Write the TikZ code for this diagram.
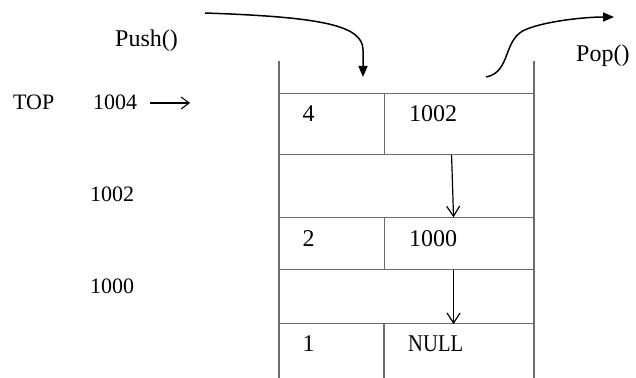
\documentclass[tikz,border=0pt]{standalone}
\usepackage{fontspec}
\setmainfont{Liberation Serif}
\usetikzlibrary{arrows.meta}
\begin{document}
\begin{tikzpicture}[x=1pt,y=-1pt,
  cell/.style={draw=gray!85!black, line width=1.1pt, minimum height=#1, inner sep=0pt, anchor=north west},
  big/.style={font=\fontsize{24}{28}\selectfont, inner sep=0pt, anchor=base west},
  lab/.style={font=\fontsize{22}{26}\selectfont, inner sep=0pt, anchor=base west},
  wall/.style={draw=gray!85!black, line width=1.1pt},
  opar/.style={draw=black, line width=1.2pt, -{Straight Barb[length=10pt,width=13pt,line width=1.2pt]}},
  curvearrow/.style={draw=black, line width=1.5pt, -{Triangle[length=11pt,width=9pt]}}]
\useasboundingbox (0,0) rectangle (636,377);
% rows
\node[cell=61.3pt, minimum width=105pt] (r1a) at (279,92.7) {};
\node[cell=61.3pt, minimum width=150pt] (r1b) at (384,92.7) {};
\node[cell=63.3pt, minimum width=255pt] (r2)  at (279,154) {};
\node[cell=52pt, minimum width=105pt] (r3a) at (279,217.3) {};
\node[cell=52pt, minimum width=150pt] (r3b) at (384,217.3) {};
\node[cell=53.7pt, minimum width=255pt] (r4)  at (279,269.3) {};
% walls
\coordinate (wlt) at (279,61);
\coordinate (wlb) at (279,378);
\coordinate (wrt) at (534,61);
\coordinate (wrb) at (534,378);
\coordinate (dvt) at (384,323);
\coordinate (dvb) at (384,378);
\draw[wall] (wlt) -- (wlb);
\draw[wall] (wrt) -- (wrb);
\draw[wall] (dvt) -- (dvb);
% cell texts
\node[big] (t4) at (302.5,121.5) {4};
\node[big] (t1002) at (409,121.5) {1002};
\node[big] (t2) at (302.5,246) {2};
\node[big] (t1000) at (409,246) {1000};
\node[big] (t1) at (302.5,351.7) {1};
\node[big] (tnull) at (408,351.7) {\scalebox{0.86}[1]{NULL}};
% outside labels
\node[big] (push) at (115,46.7) {Push()};
\node[big] (pop) at (576,61.7) {Pop()};
\node[lab] (top) at (13,109.3) {TOP};
\node[lab] (a1004) at (93,109.3) {1004};
\node[lab] (a1002) at (90,201.7) {1002};
\node[lab] (a1000) at (90,293) {1000};
% TOP arrow
\coordinate (tops) at (150,103);
\coordinate (tope) at (190,103);
\draw[line width=1.1pt, -{Straight Barb[length=8pt,width=12pt,line width=1.1pt]}] (tops) -- (tope);
% link arrows
\draw[opar] ([xshift=-8pt]r1b.south) -- ([xshift=-6pt]r3b.north);
\draw[opar] ([xshift=-6pt]r3b.south) -- ([xshift=-6pt]r4.south -| r3b.south);
% push / pop curves
\coordinate (ps) at (205,13);
\coordinate (pe) at (363,77);
\draw[curvearrow] (ps) .. controls (320,17) and (363,25) .. (363,50) -- (pe);
\coordinate (qs) at (486,77);
\coordinate (qe) at (614,17);
\draw[curvearrow] (qs) .. controls (512,72) and (502,38) .. (527,29) .. controls (547,21) and (585,17) .. (qe);
\end{tikzpicture}
\end{document}
